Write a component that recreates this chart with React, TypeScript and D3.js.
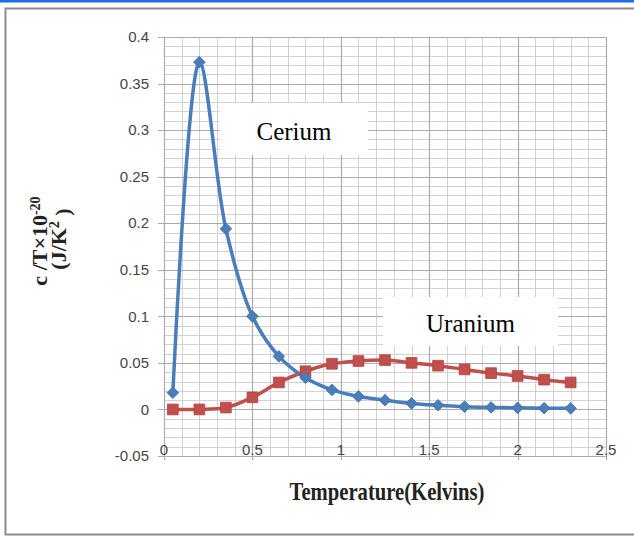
import React, { useEffect, useRef } from "react";
import * as d3 from "d3";

const temps = [0.05, 0.2, 0.35, 0.5, 0.65, 0.8, 0.95, 1.1, 1.25, 1.4, 1.55, 1.7, 1.85, 2.0, 2.15, 2.3];
const cerium = [0.018, 0.373, 0.194, 0.1, 0.057, 0.034, 0.021, 0.014, 0.01, 0.0065, 0.0045, 0.003, 0.0022, 0.0017, 0.0014, 0.0012];
const uranium = [0, 0, 0.002, 0.013, 0.029, 0.041, 0.049, 0.052, 0.053, 0.05, 0.047, 0.043, 0.039, 0.036, 0.032, 0.029];
const xTicks = [0, 0.5, 1, 1.5, 2, 2.5];
const yTicks = [-0.05, 0, 0.05, 0.1, 0.15, 0.2, 0.25, 0.3, 0.35, 0.4];

const App = () => {
  const svgRef = useRef<SVGSVGElement>(null);

  useEffect(() => {
    const width = 634;
    const height = 537;
    const svg = d3.select(svgRef.current).attr("width", width).attr("height", height);
    svg.selectAll("*").remove();

    const x = d3.scaleLinear().domain([0, 2.5]).range([164, 606]);
    const y = d3.scaleLinear().domain([-0.05, 0.4]).range([456, 37]);

    svg.append("rect").attr("width", width).attr("height", height).attr("fill", "#fff");
    // top blue stripe and frame
    svg.append("rect").attr("x", 0).attr("y", 0).attr("width", width).attr("height", 2.5).attr("fill", "#1f6fe0");
    svg.append("path")
      .attr("d", `M${width + 2},8.5 H5.5 V534.5 H${width + 2}`)
      .attr("fill", "none")
      .attr("stroke", "#8c8c8c")
      .attr("stroke-width", 2);

    // grid
    const grid = svg.append("g");
    const minorX = d3.range(0, 2.5001, 0.1);
    const minorY = d3.range(-0.05, 0.4001, 0.01);
    grid.selectAll(".mx").data(minorX).join("line")
      .attr("x1", (d) => Math.round(x(d)) + 0.5).attr("x2", (d) => Math.round(x(d)) + 0.5)
      .attr("y1", y(0.4)).attr("y2", y(-0.05))
      .attr("stroke", "#d2d2d2").attr("stroke-width", 1);
    grid.selectAll(".my").data(minorY).join("line")
      .attr("y1", (d) => Math.round(y(d)) + 0.5).attr("y2", (d) => Math.round(y(d)) + 0.5)
      .attr("x1", x(0)).attr("x2", x(2.5))
      .attr("stroke", "#d2d2d2").attr("stroke-width", 1);
    grid.selectAll(".Mx").data(xTicks).join("line")
      .attr("x1", (d) => Math.round(x(d)) + 0.5).attr("x2", (d) => Math.round(x(d)) + 0.5)
      .attr("y1", y(0.4)).attr("y2", y(-0.05) + 4)
      .attr("stroke", "#ababab").attr("stroke-width", 1.2);
    grid.selectAll(".My").data(yTicks).join("line")
      .attr("y1", (d) => Math.round(y(d)) + 0.5).attr("y2", (d) => Math.round(y(d)) + 0.5)
      .attr("x1", x(0) - 6).attr("x2", x(2.5))
      .attr("stroke", "#ababab").attr("stroke-width", 1.2);

    // tick labels
    const fmt = (d: number) => (d === 0 ? "0" : String(+d.toFixed(2)));
    svg.append("g").selectAll("text").data(yTicks).join("text")
      .attr("x", 149).attr("y", (d) => y(d)).attr("dy", "0.35em")
      .attr("text-anchor", "end")
      .style("font", "15px 'Liberation Sans', Arial, sans-serif")
      .attr("fill", "#454545")
      .text(fmt);
    svg.append("g").selectAll("text").data(xTicks).join("text")
      .attr("x", (d) => x(d)).attr("y", 455)
      .attr("text-anchor", "middle")
      .style("font", "15px 'Liberation Sans', Arial, sans-serif")
      .attr("fill", "#454545")
      .text(fmt);

    // series
    const pts = (vals: number[]) => temps.map((t, i) => [t, vals[i]] as [number, number]);
    const line = d3.line<[number, number]>()
      .x((d) => x(d[0])).y((d) => y(d[1]))
      .curve(d3.curveCatmullRom.alpha(0.5));

    svg.append("path").datum(pts(uranium)).attr("d", line)
      .attr("fill", "none").attr("stroke", "#c0504d").attr("stroke-width", 3.5);
    svg.append("path").datum(pts(cerium)).attr("d", line)
      .attr("fill", "none").attr("stroke", "#4a7ebb").attr("stroke-width", 3.5);

    const square = d3.symbol().type(d3.symbolSquare).size(115);
    svg.append("g").selectAll("path").data(pts(uranium)).join("path")
      .attr("d", square)
      .attr("transform", (d) => `translate(${x(d[0])},${y(d[1])})`)
      .attr("fill", "#c0504d").attr("stroke", "#b8433f").attr("stroke-width", 0.8);
    const diamond = d3.symbol().type(d3.symbolSquare).size(68);
    svg.append("g").selectAll("path").data(pts(cerium)).join("path")
      .attr("d", diamond)
      .attr("transform", (d) => `translate(${x(d[0])},${y(d[1])}) rotate(45)`)
      .attr("fill", "#4a7ebb").attr("stroke", "#3f73b0").attr("stroke-width", 0.8);

    // annotation boxes
    const label = (bx: number, by: number, bw: number, bh: number, txt: string, ty: number) => {
      svg.append("rect").attr("x", bx).attr("y", by).attr("width", bw).attr("height", bh).attr("fill", "#fff");
      svg.append("text").attr("x", bx + bw / 2).attr("y", ty)
        .attr("text-anchor", "middle")
        .style("font", "25px 'Liberation Serif', 'Times New Roman', serif")
        .attr("fill", "#000")
        .text(txt);
    };
    label(220, 103, 148, 52, "Cerium", 140);
    label(383, 297, 175, 49, "Uranium", 332);

    // axis titles
    svg.append("text").attr("x", 387).attr("y", 500)
      .attr("text-anchor", "middle")
      .attr("textLength", 195).attr("lengthAdjust", "spacingAndGlyphs")
      .style("font", "bold 26px 'Liberation Serif', 'Times New Roman', serif")
      .attr("fill", "#222")
      .text("Temperature(Kelvins)");

    const t1 = svg.append("text")
      .attr("transform", "translate(47,241) rotate(-90)")
      .attr("text-anchor", "middle")
      .style("font", "bold 22px 'Liberation Serif', 'Times New Roman', serif")
      .attr("fill", "#222");
    t1.append("tspan").text("c /T×10");
    t1.append("tspan").attr("dy", "-0.5em").style("font-size", "14px").text("-20");

    const t2 = svg.append("text")
      .attr("transform", "translate(66,239) rotate(-90)")
      .attr("text-anchor", "middle")
      .style("font", "bold 22px 'Liberation Serif', 'Times New Roman', serif")
      .attr("fill", "#222");
    t2.append("tspan").text("(J/K");
    t2.append("tspan").attr("dy", "-0.5em").style("font-size", "14px").text("2");
    t2.append("tspan").attr("dy", "0.5em").text(" )");
  }, []);

  return (
    <div style={{ position: "absolute", left: 0, top: 0 }}>
      <svg ref={svgRef} style={{ display: "block" }}></svg>
    </div>
  );
};

export default App;
